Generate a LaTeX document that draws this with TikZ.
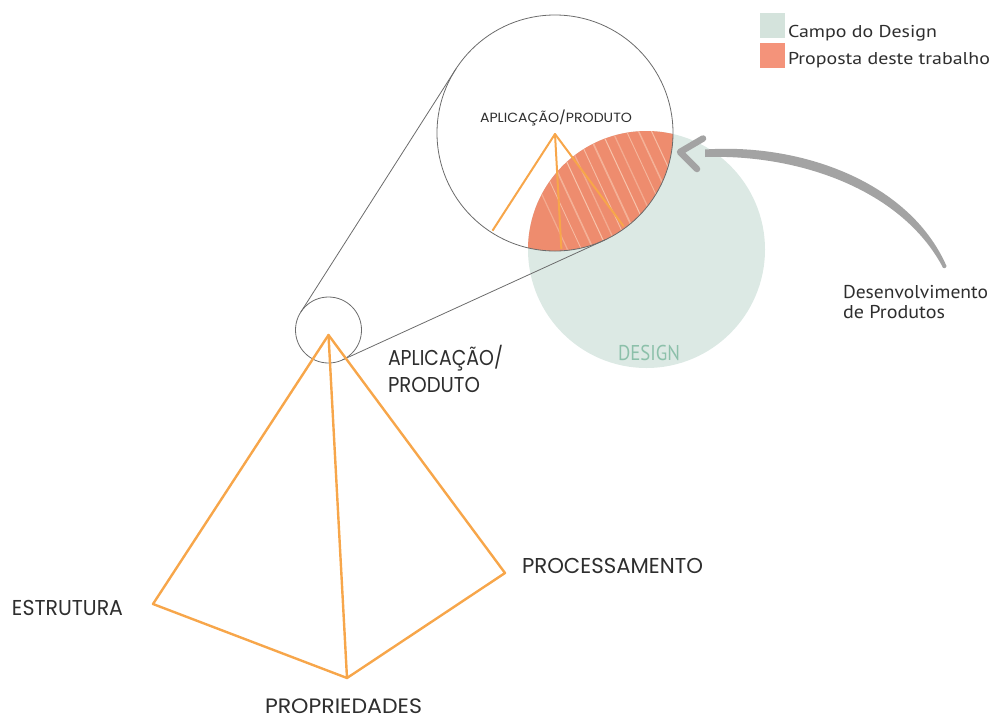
\documentclass[tikz,border=0pt]{standalone}
\usepackage{fontspec}
\usepackage{graphicx}
\setmainfont{PT Sans}
\newfontfamily\gothic{Poppins}
\definecolor{pyrorange}{HTML}{F7A64A}
\definecolor{lensorange}{HTML}{EE8C6E}
\definecolor{streak}{HTML}{F9CBB3}
\definecolor{designfill}{HTML}{DCE9E4}
\definecolor{designtext}{HTML}{8CC0AA}
\definecolor{legendgreen}{HTML}{D4E3DC}
\definecolor{legendorange}{HTML}{F4937A}
\definecolor{outline}{HTML}{6B6B6B}
\definecolor{arrowgray}{HTML}{A3A3A3}
\definecolor{txt}{HTML}{2E2E2E}
\newlength\fitwidth
\newlength\fitcap
% #1 target width, #2 target cap height, #3 font switch, #4 text
\newcommand{\fitwh}[4]{%
  \settowidth\fitwidth{#3#4}%
  \settoheight\fitcap{#3H}%
  \pgfmathsetmacro\fitsx{#1/\fitwidth}%
  \pgfmathsetmacro\fitsy{#2/\fitcap}%
  \scalebox{\fitsx}[\fitsy]{#3#4}}
\tikzset{
  ring/.style={circle, draw=outline, line width=0.8pt, inner sep=0pt, outer sep=0pt},
  tang/.style={draw=outline, line width=0.8pt},
  pyr/.style={draw=pyrorange, line width=2.4pt, line join=round, line cap=round},
  lbl/.style={inner sep=0pt, outer sep=0pt, text=txt},
}
\begin{document}
\begin{tikzpicture}[x=1pt, y=-1pt]
\useasboundingbox (0,0) rectangle (996,721);

% design circle
\node[circle, fill=designfill, inner sep=0pt, minimum size=237pt] (design) at (646.5,249.5) {};

% lens (intersection of zoom circle and design circle)
\begin{scope}
  \clip (555,133) circle (118);
  \fill[lensorange] (646.5,249.5) circle (118.5);
  \clip (646.5,249.5) circle (118.5);
  \foreach \s/\w/\o in {505/1.2/0.5, 519/0.8/0.8, 531/1.6/0.6, 545/1.0/0.9, 556/1.3/0.5, 568/0.9/0.8, 580/1.7/0.6, 594/1.0/0.9, 605/1.3/0.5, 619/0.9/0.7, 631/1.5/0.6, 644/1.0/0.8}
    \draw[streak, line width=\w pt, opacity=\o] (\s,115) -- ++(72,155);
\end{scope}

% inner (magnified) pyramid
\coordinate (iapex) at (555,134);
\begin{scope}
  \clip (555,133) circle (116);
  \draw[pyr, line width=2pt] (iapex) -- ++(-87,134.5);
  \draw[pyr, line width=2pt] (iapex) -- ++(9.5,171.5);
  \draw[pyr, line width=2pt] (iapex) -- ++(88.5,119);
\end{scope}

% zoom circles and tangent lines
\node[ring, minimum size=236pt] (big) at (555,133) {};
\node[ring, minimum size=66pt] (small) at (328.5,330) {};
\draw[tang] (small.147.5) -- (big.147.5);
\draw[tang] (small.-65.5) -- (big.-65.5);

% pyramid
\coordinate (apex) at (328.5,335);
\coordinate (left) at (153,604);
\coordinate (bottom) at (347,678);
\coordinate (right) at (505,573);
\draw[pyr] (apex) -- (left) -- (bottom) -- (right) -- cycle;
\draw[pyr] (apex) -- (bottom);

% labels
\node[lbl, anchor=base west] (innerlbl) at (480,122.5) {\fitwh{152}{9.3}{\gothic}{APLICAÇÃO/PRODUTO}};
\node[lbl, anchor=base west] (aplic) at (388,365) {\fitwh{115}{15}{\gothic}{APLICAÇÃO/}};
\node[lbl, anchor=base west] (prod) at (388,392) {\fitwh{92}{15}{\gothic}{PRODUTO}};
\node[lbl, anchor=base west] (estr) at (12,615) {\fitwh{111}{15}{\gothic}{ESTRUTURA}};
\node[lbl, anchor=base west] (proc) at (522,573) {\fitwh{181}{15}{\gothic}{PROCESSAMENTO}};
\node[lbl, anchor=base west] (prop) at (265,713) {\fitwh{157}{14.5}{\gothic}{PROPRIEDADES}};
\node[lbl, anchor=base west, text=designtext] (designlbl) at (618,360) {\fitwh{62}{15}{}{DESIGN}};
\node[lbl, anchor=base west] (dev1) at (843,298) {\fitwh{145}{13}{}{Desenvolvimento}};
\node[lbl, anchor=base west] (dev2) at (843,318) {\fitwh{102}{13}{}{de Produtos}};

% curved arrow
\coordinate (arrtail) at (944,267);
\coordinate (arrtip) at (680,152);
\fill[arrowgray] (705,149.5) .. controls (800,143) and (909,181) .. (946.5,266)
  arc[start angle=0, end angle=-180, x radius=2.2pt, y radius=2.2pt]
  .. controls (901,190) and (800,154) .. (705,157) -- cycle;
\draw[arrowgray, line width=6.5pt, line cap=round, line join=round]
  (703,138.5) -- (arrtip) -- (697,169);

% legend
\fill[legendgreen] (760,13) rectangle (785,38);
\fill[legendorange] (760,43) rectangle (785,68);
\node[lbl, anchor=base west] (leg1) at (788,37) {\fitwh{149}{12}{}{Campo do Design}};
\node[lbl, anchor=base west] (leg2) at (788,64) {\fitwh{202}{12}{}{Proposta deste trabalho}};
\end{tikzpicture}
\end{document}
